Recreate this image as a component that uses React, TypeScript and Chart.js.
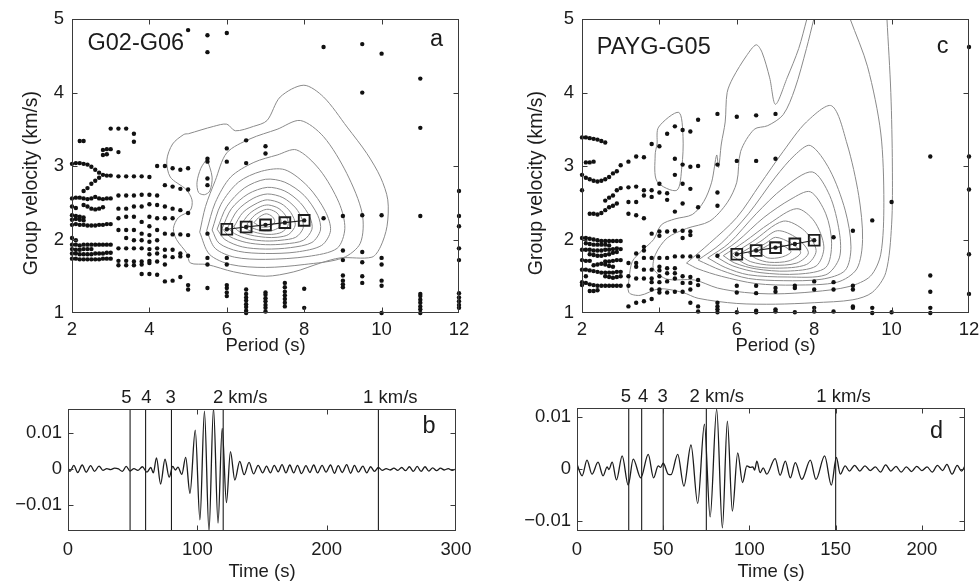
import React, { useEffect, useRef } from "react";
import { Chart, registerables } from "chart.js";

Chart.register(...registerables);

type P = [number, number];

const FONT = "'Liberation Sans', Arial, Helvetica, sans-serif";
const INK = "#1c1c1c";
const CONTOUR = "#8a8a8a";

// ---------- axes ----------
const periodTicks = [2, 4, 6, 8, 10, 12];
const velocityTicks = [1, 2, 3, 4, 5];
const timeTicksB = [0, 100, 200, 300];
const timeTicksD = [0, 50, 100, 150, 200];
const ampTicks = [-0.01, 0, 0.01];
const ampTickLabels = ["\u22120.01", "0", "0.01"];

// ---------- dispersion picks ----------
const dispPeriods = [6, 6.5, 7, 7.5, 8];
const dispVelA = [2.14, 2.17, 2.2, 2.23, 2.26];
const dispVelC = [1.8, 1.85, 1.89, 1.94, 1.99];

// ---------- arrivals (group velocity markers) ----------
const arrivalLabels = ["5", "4", "3", "2 km/s", "1 km/s"];
const arrivalTimesB = [48, 60, 80, 120, 240];
const arrivalTimesD = [30, 37.5, 50, 75, 150];

// ---------- scatter picks, panel a ----------
const dotsA: P[] = [
  [2.0,3.03],[2.1,3.04],[2.2,3.04],[2.3,3.03],[2.4,3.02],[2.5,2.99],[2.6,2.95],[2.7,2.91],[2.8,2.88],[2.9,2.87],[3.0,2.87],
  [2.2,3.34],[2.3,3.34],[2.8,3.22],[2.9,3.23],[3.0,3.23],[2.8,3.15],[2.9,3.16],[3.0,3.51],
  [2.3,2.66],[2.4,2.7],[2.5,2.76],[2.6,2.8],[2.7,2.84],
  [2.0,2.56],[2.1,2.57],[2.2,2.57],[2.3,2.56],[2.4,2.55],[2.5,2.56],[2.6,2.58],[2.7,2.56],[2.8,2.55],[2.9,2.56],[3.0,2.56],
  [2.0,2.45],[2.1,2.43],[2.3,2.47],[2.4,2.45],[2.5,2.42],[2.6,2.41],[2.7,2.42],[2.8,2.44],
  [2.0,2.33],[2.1,2.32],[2.2,2.31],[2.3,2.3],
  [2.0,2.27],[2.1,2.28],[2.2,2.27],[2.3,2.26],
  [2.0,2.2],[2.1,2.21],[2.2,2.2],[2.3,2.2],[2.4,2.19],[2.5,2.19],[2.6,2.19],[2.7,2.2],[2.8,2.2],[2.9,2.21],[3.0,2.21],
  [2.0,2.02],[2.1,1.99],
  [2.0,1.93],[2.1,1.93],[2.2,1.92],[2.3,1.93],[2.4,1.93],[2.5,1.93],[2.6,1.93],[2.7,1.93],[2.8,1.93],[2.9,1.93],[3.0,1.93],
  [2.0,1.87],[2.1,1.86],[2.2,1.86],[2.3,1.87],[2.4,1.87],[2.5,1.87],
  [2.0,1.81],[2.1,1.81],[2.2,1.8],[2.3,1.8],[2.4,1.8],[2.5,1.8],[2.6,1.81],[2.7,1.81],[2.8,1.81],[2.9,1.82],[3.0,1.82],
  [2.0,1.74],[2.1,1.74],[2.2,1.73],[2.3,1.73],[2.4,1.73],[2.5,1.73],[2.6,1.73],[2.7,1.73],[2.8,1.74],[2.9,1.74],[3.0,1.74],
  [3.2,3.51],[3.2,3.19],[3.2,2.86],[3.2,2.6],[3.2,2.42],[3.2,2.29],[3.2,2.13],[3.2,1.88],[3.2,1.71],[3.2,1.65],
  [3.4,3.51],[3.4,2.86],[3.4,2.6],[3.4,2.42],[3.4,2.31],[3.4,2.13],[3.4,2.02],[3.4,1.88],[3.4,1.71],[3.4,1.65],
  [3.6,3.44],[3.6,3.33],[3.6,2.86],[3.6,2.6],[3.6,2.45],[3.6,2.31],[3.6,2.13],[3.6,1.99],[3.6,1.88],[3.6,1.7],[3.6,1.65],
  [3.8,2.86],[3.8,2.61],[3.8,2.45],[3.8,2.24],[3.8,2.08],[3.8,1.99],[3.8,1.88],[3.8,1.7],[3.8,1.66],[3.8,1.53],
  [4.0,2.85],[4.0,2.61],[4.0,2.48],[4.0,2.31],[4.0,2.18],[4.0,2.06],[4.0,1.97],[4.0,1.87],[4.0,1.8],[4.0,1.71],[4.0,1.68],[4.0,1.53],
  [4.2,3.0],[4.2,2.6],[4.2,2.47],[4.2,2.29],[4.2,2.13],[4.2,1.99],[4.2,1.88],[4.2,1.81],[4.2,1.7],[4.2,1.52],
  [4.4,3.0],[4.4,2.74],[4.4,2.45],[4.4,2.29],[4.4,2.08],[4.4,1.86],[4.4,1.77],[4.4,1.66],[4.4,1.43],
  [4.6,2.97],[4.6,2.72],[4.6,2.42],[4.6,2.29],[4.6,2.07],[4.6,1.86],[4.6,1.76],[4.6,1.44],
  [4.8,2.95],[4.8,2.69],[4.8,2.4],[4.8,2.07],[4.8,1.81],[4.8,1.77],[4.8,1.49],
  [5.0,4.85],[5.0,2.97],[5.0,2.68],[5.0,2.36],[5.0,2.06],[5.0,1.78],[5.0,1.38],[5.0,1.32],
  [5.5,4.78],[5.5,4.55],[5.5,3.1],[5.5,3.06],[5.5,2.83],[5.5,2.74],[5.5,2.08],[5.5,1.75],[5.5,1.66],[5.5,1.34],
  [6,4.81],[6,3.24],[6,3.06],[6,1.75],[6,1.66],[6,1.38],[6,1.34],[6,1.28],[6,1.23],
  [6.5,3.35],[6.5,3.04],[6.5,1.32],[6.5,1.26],[6.5,1.21],[6.5,1.17],[6.5,1.12],[6.5,1.08],[6.5,1.03],[6.5,1.0],
  [7,3.27],[7,3.17],[7,1.28],[7,1.25],[7,1.2],[7,1.16],[7,1.11],[7,1.07],[7,1.02],
  [7.5,1.41],[7.5,1.35],[7.5,1.29],[7.5,1.24],[7.5,1.19],[7.5,1.14],[7.5,1.09],
  [8,1.33],[8,1.07],
  [8.5,4.62],[8.5,2.29],
  [9,2.32],[9,1.85],[9,1.72],[9,1.51],[9,1.44],[9,1.39],[9,1.35],
  [9.5,4.66],[9.5,4.0],[9.5,2.33],[9.5,1.83],[9.5,1.69],[9.5,1.5],[9.5,1.41],
  [10,4.53],[10,2.33],[10,1.75],[10,1.66],[10,1.44],[10,1.37],[10,1.0],
  [11,4.19],[11,3.52],[11,2.32],[11,1.26],[11,1.23],[11,1.18],[11,1.14],[11,1.09],[11,1.05],[11,1.0],
  [12,2.66],[12,2.32],[12,2.18],[12,1.88],[12,1.72],[12,1.27],[12,1.21],[12,1.16],[12,1.11],[12,1.07],
];

// ---------- scatter picks, panel c ----------
const dotsC: P[] = [
  [2.0,3.39],[2.1,3.39],[2.2,3.38],[2.3,3.37],[2.4,3.36],[2.5,3.34],[2.6,3.32],
  [2.1,3.05],[2.2,3.05],[2.3,3.06],[2.0,2.67],
  [2.0,2.88],[2.1,2.84],[2.2,2.82],[2.3,2.8],[2.4,2.79],[2.5,2.8],[2.6,2.82],[2.7,2.85],[2.8,2.9],[2.9,2.93],[3.0,3.01],
  [2.2,2.35],[2.3,2.35],[2.4,2.34],[2.5,2.36],[2.6,2.4],[2.7,2.44],[2.8,2.46],[2.9,2.49],
  [2.6,2.53],[2.7,2.57],[2.8,2.6],[2.9,2.67],[3.0,2.7],
  [2.0,2.02],[2.1,2.02],[2.2,2.01],[2.3,2.0],[2.4,1.99],[2.5,1.98],[2.6,1.98],[2.7,1.98],[2.8,1.98],[2.9,1.98],[3.0,1.98],
  [2.1,1.95],[2.2,1.94],[2.3,1.93],[2.4,1.93],[2.5,1.93],[2.6,1.93],[2.7,1.92],
  [2.0,1.86],[2.1,1.86],[2.2,1.86],[2.3,1.85],[2.4,1.85],[2.5,1.85],[2.6,1.86],[2.7,1.86],[2.8,1.87],[2.9,1.88],[3.0,1.87],
  [2.2,1.8],[2.3,1.79],[2.4,1.78],[2.5,1.78],[2.6,1.79],[2.7,1.8],[2.8,1.82],[2.9,1.83],
  [2.0,1.72],[2.1,1.71],[2.2,1.71],[2.6,1.7],[2.7,1.7],[2.8,1.71],[2.9,1.72],[3.0,1.72],
  [2.3,1.65],[2.4,1.66],[2.5,1.67],[2.6,1.66],[2.7,1.64],[2.8,1.63],
  [2.0,1.59],[2.1,1.59],[2.2,1.58],[2.3,1.57],[2.4,1.56],[2.5,1.55],[2.6,1.55],[2.7,1.55],[2.8,1.55],[2.9,1.56],[3.0,1.56],
  [2.1,1.5],[2.6,1.5],[2.7,1.49],[2.8,1.48],[2.9,1.49],[3.0,1.5],
  [2.0,1.42],[2.0,1.38],[2.1,1.41],[2.2,1.39],[2.3,1.38],[2.4,1.37],[2.5,1.37],[2.6,1.37],[2.7,1.37],[2.8,1.37],[2.9,1.37],[3.0,1.37],
  [2.2,1.3],[2.3,1.3],[2.4,1.31],
  [3.2,3.06],[3.2,2.71],[3.2,2.51],[3.2,2.35],[3.2,1.68],[3.2,1.5],[3.2,1.37],[3.2,1.09],
  [3.4,3.13],[3.4,2.72],[3.4,2.51],[3.4,2.33],[3.4,1.81],[3.4,1.68],[3.4,1.63],[3.4,1.47],[3.4,1.14],
  [3.6,3.12],[3.6,2.67],[3.6,2.6],[3.6,2.29],[3.6,1.9],[3.6,1.85],[3.6,1.75],[3.6,1.59],[3.6,1.47],[3.6,1.16],
  [3.8,3.3],[3.8,2.67],[3.8,2.58],[3.8,2.08],[3.8,1.75],[3.8,1.59],[3.8,1.47],[3.8,1.42],[3.8,1.32],[3.8,1.19],
  [4.0,3.27],[4.0,2.76],[4.0,2.64],[4.0,2.11],[4.0,2.05],[4.0,1.75],[4.0,1.63],[4.0,1.58],[4.0,1.5],[4.0,1.42],[4.0,1.32],[4.0,1.28],
  [4.2,3.44],[4.2,2.63],[4.2,2.54],[4.2,2.11],[4.2,1.75],[4.2,1.61],[4.2,1.54],[4.2,1.43],[4.2,1.28],
  [4.4,3.54],[4.4,3.1],[4.4,2.88],[4.4,2.38],[4.4,2.12],[4.4,1.77],[4.4,1.61],[4.4,1.54],[4.4,1.47],[4.4,1.29],
  [4.6,3.49],[4.6,3.02],[4.6,2.76],[4.6,2.49],[4.6,2.12],[4.6,2.02],[4.6,1.77],[4.6,1.5],[4.6,1.41],[4.6,1.29],
  [4.8,3.47],[4.8,2.99],[4.8,2.69],[4.8,2.11],[4.8,2.06],[4.8,1.77],[4.8,1.49],[4.8,1.41],[4.8,1.32],[4.8,1.14],
  [5.0,3.63],[5.0,3.0],[5.0,2.44],[5.0,1.77],[5.0,1.45],[5.0,1.38],[5.0,1.09],[5.0,1.02],
  [5.5,3.71],[5.5,3.02],[5.5,2.64],[5.5,2.46],[5.5,1.78],[5.5,1.14],[5.5,1.09],[5.5,1.05],[5.5,1.01],
  [6,3.67],[6,3.07],[6,1.37],[6,1.28],[6,1.01],
  [6.5,3.69],[6.5,3.07],[6.5,1.37],[6.5,1.27],[6.5,1.03],[6.5,1.01],
  [7,3.71],[7,3.1],[7,1.34],[7,1.29],[7,1.05],[7,1.02],
  [7.5,1.37],[7.5,1.34],[7.5,1.01],
  [8,1.43],[8,1.32],[8,1.07],[8,1.02],
  [8.5,2.03],[8.5,1.42],[8.5,1.32],[8.5,1.02],
  [9,2.12],[9,1.37],[9,1.32],[9,1.09],[9,1.07],
  [9.5,2.26],[9.5,1.07],[9.5,1.0],
  [10,2.51],[10,1.01],
  [11,3.13],[11,1.51],[11,1.29],[11,1.07],[11,1.0],
  [12,4.62],[12,3.13],[12,2.68],[12,1.8],[12,1.26],
];

// ---------- contours, panel a ----------
const contoursA: P[][] = [
  [[5.01,3.44],[5.66,3.54],[6.0,3.57],[6.22,3.48],[6.69,3.54],[7.04,3.62],[7.38,3.94],[7.99,4.1],[8.5,3.94],[9.11,3.53],[9.62,3.17],[9.97,2.85],[10.16,2.54],[10.14,2.18],[9.97,1.9],[9.75,1.76],[8.93,1.75],[8.42,1.68],[7.73,1.56],[7.0,1.5],[6.18,1.56],[5.49,1.66],[5.06,1.68],[4.97,1.81],[4.7,2.0],[4.62,2.15],[4.75,2.3],[5.06,2.4],[5.1,2.54],[4.95,2.68],[4.54,2.85],[4.45,3.08],[4.6,3.3],[4.89,3.43],[5.01,3.44]],
  [[5.49,3.1],[5.33,2.97],[5.23,2.78],[5.27,2.64],[5.42,2.61],[5.56,2.66],[5.62,2.85],[5.49,3.1]],
  [[5.3,2.1],[5.45,2.45],[5.7,2.8],[6.0,3.18],[6.6,3.37],[7.3,3.5],[7.9,3.62],[8.5,3.4],[9.1,2.9],[9.5,2.35],[9.45,1.95],[9.0,1.75],[8.0,1.66],[7.0,1.62],[6.1,1.66],[5.55,1.8],[5.3,2.1]],
  [[5.48,2.12],[5.7,2.5],[6.1,2.85],[6.7,3.05],[7.3,3.15],[7.8,3.22],[8.4,2.95],[8.9,2.5],[9.05,2.15],[8.85,1.88],[8.1,1.77],[7.0,1.73],[6.2,1.76],[5.7,1.88],[5.48,2.12]],
  [[5.62,2.13],[5.85,2.48],[6.3,2.78],[6.9,2.93],[7.5,2.95],[8.1,2.72],[8.55,2.38],[8.68,2.12],[8.45,1.92],[7.8,1.83],[7.0,1.81],[6.3,1.84],[5.8,1.95],[5.62,2.13]],
  [[5.75,2.14],[6.0,2.45],[6.45,2.7],[7.0,2.82],[7.5,2.78],[8.0,2.6],[8.35,2.33],[8.42,2.13],[8.2,1.96],[7.65,1.89],[7.0,1.87],[6.4,1.9],[5.95,2.0],[5.75,2.14]],
  [[5.88,2.15],[6.12,2.42],[6.55,2.62],[7.05,2.71],[7.5,2.66],[7.9,2.5],[8.15,2.3],[8.2,2.14],[7.98,1.99],[7.5,1.94],[7.0,1.93],[6.5,1.96],[6.08,2.04],[5.88,2.15]],
  [[6.02,2.16],[6.28,2.4],[6.68,2.56],[7.05,2.62],[7.45,2.57],[7.78,2.43],[7.95,2.27],[7.97,2.15],[7.78,2.03],[7.4,1.99],[7.0,1.98],[6.55,2.01],[6.2,2.08],[6.02,2.16]],
  [[6.18,2.17],[6.42,2.37],[6.8,2.5],[7.05,2.54],[7.4,2.49],[7.65,2.37],[7.77,2.2],[7.6,2.07],[7.3,2.03],[7.0,2.03],[6.62,2.06],[6.32,2.11],[6.18,2.17]],
  [[6.35,2.19],[6.58,2.35],[6.88,2.45],[7.08,2.47],[7.35,2.42],[7.55,2.3],[7.58,2.19],[7.42,2.1],[7.15,2.07],[6.88,2.08],[6.55,2.13],[6.35,2.19]],
  [[6.52,2.21],[6.72,2.33],[6.95,2.4],[7.1,2.41],[7.3,2.36],[7.4,2.26],[7.36,2.17],[7.15,2.12],[6.9,2.12],[6.65,2.16],[6.52,2.21]],
  [[6.7,2.23],[6.85,2.31],[7.02,2.35],[7.18,2.31],[7.24,2.24],[7.12,2.18],[6.9,2.17],[6.7,2.23]],
];

// ---------- contours, panel c ----------
const contoursC: P[][] = [
  [[7.81,5.0],[7.6,4.6],[7.3,4.2],[7.0,3.84],[6.85,4.2],[6.65,4.55],[6.5,4.65],[6.25,4.5],[5.9,4.2],[5.75,4.0],[5.7,3.6],[5.6,3.3],[5.53,2.98],[5.48,3.15],[5.35,2.78],[5.15,2.52],[4.85,2.34],[4.4,2.28],[4.05,2.2],[3.85,2.0],[3.55,1.85],[3.3,1.7],[3.22,1.48],[3.21,1.28],[3.5,1.24],[4.0,1.33],[4.6,1.28],[5.0,1.2],[6.0,1.13],[7.0,1.12],[8.0,1.14],[9.0,1.18],[9.5,1.28],[9.85,1.55],[10.0,2.2],[10.02,3.0],[9.98,4.0],[9.88,5.0]],
  [[7.99,5.0],[7.8,4.6],[7.5,4.05],[7.2,3.7],[6.8,3.55],[6.45,3.5],[6.1,3.2],[6.0,2.78],[5.75,2.5],[5.3,2.25],[4.7,2.15],[4.2,2.02],[3.9,1.8],[3.85,1.6],[4.2,1.46],[4.9,1.45],[5.5,1.34],[6.2,1.28],[7.0,1.26],[8.0,1.29],[8.9,1.36],[9.45,1.5],[9.72,1.8],[9.8,2.5],[9.72,3.45],[9.38,4.35],[8.93,5.0]],
  [[3.94,3.3],[3.98,3.53],[4.5,3.73],[4.61,3.4],[4.58,2.99],[4.45,2.67],[3.94,2.79],[3.89,3.15],[3.94,3.3]],
  [[4.7,1.68],[5.3,1.95],[6.0,2.3],[6.6,2.75],[7.2,3.2],[7.8,3.6],[8.45,3.82],[8.85,3.3],[9.15,2.6],[9.25,2.0],[9.1,1.6],[8.6,1.42],[7.5,1.38],[6.5,1.4],[5.6,1.5],[5.0,1.6],[4.7,1.68]],
  [[5.0,1.72],[5.6,1.95],[6.3,2.35],[7.0,2.85],[7.5,3.15],[7.9,3.28],[8.4,2.95],[8.8,2.4],[8.95,1.9],[8.8,1.58],[8.2,1.46],[7.2,1.44],[6.3,1.47],[5.6,1.58],[5.0,1.72]],
  [[5.25,1.75],[5.8,1.95],[6.5,2.35],[7.2,2.7],[7.95,2.92],[8.4,2.6],[8.65,2.1],[8.65,1.75],[8.3,1.52],[7.3,1.49],[6.3,1.52],[5.7,1.62],[5.25,1.75]],
  [[5.45,1.77],[6.0,1.97],[6.7,2.3],[7.4,2.55],[7.9,2.65],[8.3,2.35],[8.45,1.95],[8.3,1.62],[7.6,1.53],[6.6,1.55],[5.9,1.64],[5.45,1.77]],
  [[5.65,1.78],[6.2,1.97],[6.85,2.22],[7.55,2.42],[8.0,2.25],[8.25,1.9],[8.05,1.64],[7.3,1.57],[6.5,1.6],[5.95,1.68],[5.65,1.78]],
  [[5.85,1.79],[6.4,1.97],[7.2,2.25],[7.75,2.12],[8.05,1.85],[7.8,1.66],[7.0,1.61],[6.3,1.65],[5.85,1.79]],
  [[6.05,1.8],[6.6,1.97],[7.05,2.12],[7.55,2.02],[7.85,1.82],[7.55,1.68],[6.9,1.65],[6.35,1.7],[6.05,1.8]],
  [[6.3,1.82],[6.75,1.95],[7.0,2.03],[7.4,1.95],[7.65,1.82],[7.35,1.71],[6.85,1.69],[6.5,1.74],[6.3,1.82]],
  [[6.55,1.84],[6.8,1.92],[7.0,1.96],[7.25,1.9],[7.4,1.83],[7.15,1.76],[6.8,1.75],[6.55,1.84]],
];

// ---------- seismograms (peaks and troughs) ----------
const waveB: P[] = [
  [0,0.0004],[1.5,-0.0006],[4.5,0.0011],[7.5,-0.0009],[11,0.0012],[14,-0.0008],[17.5,0.001],[20.5,-0.0006],[24,0.0009],[27,-0.0003],
  [30,0.0002],[33,-0.0001],[36,0.0003],[39,0.0001],[42,-0.0006],[45,0.0008],[48,-0.0005],[51,0.0002],[54,-0.0003],[57.5,0.0007],
  [61,-0.0008],[64,0.0005],[66,-0.001],[68.4,0.0032],[71.6,-0.0041],[75,0.0028],[78.2,-0.0022],[81,0.0008],[83,-0.0002],[85,0.0006],
  [88,-0.0014],[91,0.0033],[94.3,-0.0067],[98.4,0.0109],[102,-0.0141],[105.5,0.0162],[109,-0.0172],[112.5,0.017],[116,-0.015],[119.2,0.0114],
  [122.5,-0.0093],[125.6,0.0049],[129,-0.003],[132.8,0.0022],[136.2,-0.0015],[140,0.0019],[143.5,-0.0013],[147,0.0011],[150.5,-0.001],[153.5,0.0009],
  [156.5,-0.001],[159.5,0.0011],[162.5,-0.0007],[165.5,0.0013],[168.5,-0.001],[171.5,0.0012],[174.5,-0.001],[177.5,0.0011],[180.5,-0.0012],[184,0.001],
  [187,-0.0009],[190,0.0012],[193,-0.001],[196.5,0.0011],[199.5,-0.0008],[203,0.0012],[206,-0.0011],[209,0.001],[212,-0.0009],[215.5,0.0013],
  [218.5,-0.0011],[221.5,0.0011],[224.5,-0.0008],[228,0.0009],[231,-0.001],[234,0.0007],[237,-0.0006],[240,0.0005],[243,-0.0003],[246,0.0002],
  [249,-0.0002],[252,0.0003],[255,-0.0003],[258,0.0005],[261,-0.0004],[264,0.0007],[267,-0.0006],[270,0.0008],[273,-0.0006],[276,0.0007],
  [279,-0.0005],[282,0.0004],[285,-0.0004],[288,0.0003],[291,-0.0002],[294,0.0002],[297,-0.0003],[300,0.0001],
];

const waveD: P[] = [
  [0,0.0009],[3,-0.0013],[5.8,0.0017],[8.7,-0.001],[12.2,0.0013],[15.1,-0.0013],[17.5,0.0004],[18.5,-0.0001],[20.4,0.0013],[22.9,-0.0021],
  [26.2,0.0025],[29.7,-0.0031],[32.6,0.0019],[37,-0.0017],[41.3,0.0028],[44.4,-0.0017],[47.1,0.0006],[48.5,0.0003],[50,0.0011],[52.9,-0.001],
  [54.5,-0.0011],[58.4,0.0028],[62,-0.0033],[66.1,0.0046],[70,-0.0066],[73.9,0.0086],[77.2,-0.0092],[81,0.0115],[84.3,-0.0113],[87.2,0.0092],
  [90.1,-0.0081],[93.2,0.0031],[96,-0.0026],[98.5,0.0006],[100.5,0.0003],[102,0.0004],[103,-0.0002],[104.3,0.0015],[106.2,-0.0007],[108,0.0002],
  [110,-0.001],[114.9,0.002],[117.8,-0.0012],[120.8,0.0015],[123.7,-0.0017],[126.6,0.0012],[130.4,-0.002],[135.3,0.0017],[138.6,-0.002],[143.6,0.0025],
  [147.5,-0.0031],[150.4,0.0022],[152.7,-0.001],[155.5,0.0006],[158,-0.0004],[161,0.0007],[164,-0.0004],[167,0.0006],[170,-0.0003],[173,0.0004],
  [176,-0.0006],[179,0.0008],[182,-0.0004],[185,0.0005],[188,-0.0006],[191,0.0004],[194,-0.0005],[197,0.0005],[200,-0.0003],[203,0.0004],
  [206,-0.0006],[209,0.0007],[212,-0.0003],[214.5,0.0009],[217.5,-0.001],[220.5,0.0007],[223,-0.0004],[225,0.0006],
];

// ---------- layout (pixels, positions of labels) ----------
const arrivalLabelAtB = [45.2, 60.7, 79.3, 133.1, 249.2];
const arrivalLabelAtD = [28.3, 38.4, 49.6, 81.1, 154.6];

type TextSpec = {
  t: string; x: number; y: number;
  xRef: "left" | "right" | "center" | "data";
  yRef: "top" | "bottom" | "middle";
  size: number; align?: CanvasTextAlign; base?: CanvasTextBaseline; rot?: boolean;
};

const xy = (a: P[]) => a.map(([x, y]) => ({ x, y }));
const zip = (xs: number[], ys: number[]) => xs.map((x, i) => ({ x, y: ys[i] }));

function makeFrame(texts: TextSpec[]) {
  return {
    id: "frame",
    afterDraw(chart: any) {
      const { ctx, chartArea: a, scales } = chart;
      ctx.save();
      ctx.strokeStyle = "#3a3a3a";
      ctx.lineWidth = 1;
      const L = Math.round(a.left) + 0.5, R = Math.round(a.right) - 0.5;
      const T = Math.round(a.top) + 0.5, B = Math.round(a.bottom) - 0.5;
      ctx.strokeRect(L, T, R - L, B - T);
      ctx.beginPath();
      const tk = 5;
      scales.x.ticks.forEach((t: any) => {
        const p = Math.round(scales.x.getPixelForValue(t.value)) + 0.5;
        if (p <= L + 1 || p >= R - 1) return;
        ctx.moveTo(p, B); ctx.lineTo(p, B - tk);
        ctx.moveTo(p, T); ctx.lineTo(p, T + tk);
      });
      scales.y.ticks.forEach((t: any) => {
        const p = Math.round(scales.y.getPixelForValue(t.value)) + 0.5;
        if (p <= T + 1 || p >= B - 1) return;
        ctx.moveTo(L, p); ctx.lineTo(L + tk, p);
        ctx.moveTo(R, p); ctx.lineTo(R - tk, p);
      });
      ctx.stroke();
      ctx.fillStyle = INK;
      texts.forEach((s) => {
        let x = 0;
        if (s.xRef === "left") x = a.left + s.x;
        else if (s.xRef === "right") x = a.right + s.x;
        else if (s.xRef === "center") x = (a.left + a.right) / 2 + s.x;
        else x = scales.x.getPixelForValue(s.x);
        let y = 0;
        if (s.yRef === "top") y = a.top + s.y;
        else if (s.yRef === "bottom") y = a.bottom + s.y;
        else y = (a.top + a.bottom) / 2 + s.y;
        ctx.font = `${s.size}px ${FONT}`;
        ctx.textAlign = s.align || "center";
        ctx.textBaseline = s.base || "alphabetic";
        if (s.rot) {
          ctx.save();
          ctx.translate(x, y);
          ctx.rotate(-Math.PI / 2);
          ctx.fillText(s.t, 0, 0);
          ctx.restore();
        } else ctx.fillText(s.t, x, y);
      });
      ctx.restore();
    },
  };
}

type PanelSpec = {
  left: number; top: number; w: number; h: number;
  yAxisW: number; xAxisH: number; padTop: number; padRight: number;
  xMin: number; xMax: number; yMin: number; yMax: number;
  xTicks: number[]; xLabels: string[]; yTicks: number[]; yLabels: string[];
  xPad: number; yPad: number;
  datasets: any[]; texts: TextSpec[];
};

const TICK_SIZE = 18.5;
const YLABEL_SIZE = 19.5;

function buildConfig(p: PanelSpec) {
  const tickFont = { family: FONT, size: TICK_SIZE, lineHeight: 1.2 };
  const grid = { display: false, drawTicks: false, tickLength: 0 };
  return {
    type: "scatter",
    data: { datasets: p.datasets },
    options: {
      responsive: false,
      animation: false,
      events: [],
      layout: { padding: { top: p.padTop, right: p.padRight, left: 0, bottom: 0 } },
      plugins: { legend: { display: false }, tooltip: { enabled: false } },
      scales: {
        x: {
          type: "linear", min: p.xMin, max: p.xMax,
          grid, border: { display: false },
          ticks: { font: tickFont, color: INK, padding: p.xPad, maxRotation: 0, autoSkip: false,
            callback: (_v: any, i: number) => p.xLabels[i] },
          afterBuildTicks: (s: any) => { s.ticks = p.xTicks.map((v) => ({ value: v })); },
          afterFit: (s: any) => { s.height = p.xAxisH; },
        },
        y: {
          type: "linear", min: p.yMin, max: p.yMax,
          grid, border: { display: false },
          ticks: { font: tickFont, color: INK, padding: p.yPad, autoSkip: false,
            callback: (_v: any, i: number) => p.yLabels[i] },
          afterBuildTicks: (s: any) => { s.ticks = p.yTicks.map((v) => ({ value: v })); },
          afterFit: (s: any) => { s.width = p.yAxisW; },
        },
      },
    },
    plugins: [makeFrame(p.texts)],
  };
}

function contourSets(list: P[][]) {
  return list.map((c) => ({
    data: xy(c), showLine: true, pointRadius: 0, borderColor: CONTOUR, borderWidth: 1, tension: 0.3,
  }));
}

function disperSets(vel: number[]) {
  return [
    { data: zip(dispPeriods, vel), showLine: true, borderColor: INK, borderWidth: 1.1,
      pointStyle: "rect", pointRadius: 7.6, pointBorderWidth: 1.9, pointBorderColor: INK,
      pointBackgroundColor: "rgba(0,0,0,0)" },
    { data: zip(dispPeriods, vel), pointRadius: 2.2, pointBorderWidth: 0, pointBackgroundColor: INK },
  ];
}

function dotSet(d: P[]) {
  return { data: xy(d), pointRadius: 2.2, pointBorderWidth: 0, pointBackgroundColor: "#111", clip: false };
}

function seisSets(wave: P[], arrivals: number[], yMin: number, yMax: number) {
  return [
    ...arrivals.map((t) => ({
      data: [{ x: t, y: yMin }, { x: t, y: yMax }], showLine: true, pointRadius: 0,
      borderColor: INK, borderWidth: 1.1,
    })),
    { data: xy(wave), showLine: true, pointRadius: 0, borderColor: INK, borderWidth: 1.3,
      cubicInterpolationMode: "monotone" },
  ];
}

const velLabels = velocityTicks.map(String);
const perLabels = periodTicks.map(String);

const panelA: PanelSpec = {
  left: 0, top: 0, w: 490, h: 362, yAxisW: 72, xAxisH: 49, padTop: 18, padRight: 31,
  xMin: 2, xMax: 12, yMin: 1, yMax: 5,
  xTicks: periodTicks, xLabels: perLabels, yTicks: velocityTicks, yLabels: velLabels,
  xPad: 6, yPad: 8,
  datasets: [...disperSets(dispVelA), dotSet(dotsA), ...contourSets(contoursA)],
  texts: [
    { t: "G02-G06", x: 15.5, y: 31, xRef: "left", yRef: "top", size: 23.5, align: "left" },
    { t: "a", x: -22.5, y: 27, xRef: "right", yRef: "top", size: 23.5 },
    { t: "Period (s)", x: 0, y: 33, xRef: "center", yRef: "bottom", size: TICK_SIZE, base: "middle" },
    { t: "Group velocity (km/s)", x: -40, y: 17, xRef: "left", yRef: "middle", size: YLABEL_SIZE, base: "middle", rot: true },
  ],
};

const panelC: PanelSpec = {
  left: 490, top: 0, w: 520, h: 362, yAxisW: 92, xAxisH: 49, padTop: 18, padRight: 41,
  xMin: 2, xMax: 12, yMin: 1, yMax: 5,
  xTicks: periodTicks, xLabels: perLabels, yTicks: velocityTicks, yLabels: velLabels,
  xPad: 6, yPad: 8,
  datasets: [...disperSets(dispVelC), dotSet(dotsC), ...contourSets(contoursC)],
  texts: [
    { t: "PAYG-G05", x: 14.7, y: 35, xRef: "left", yRef: "top", size: 23.5, align: "left" },
    { t: "c", x: -26.5, y: 33.5, xRef: "right", yRef: "top", size: 23.5 },
    { t: "Period (s)", x: 0, y: 33, xRef: "center", yRef: "bottom", size: TICK_SIZE, base: "middle" },
    { t: "Group velocity (km/s)", x: -45, y: 17, xRef: "left", yRef: "middle", size: YLABEL_SIZE, base: "middle", rot: true },
  ],
};

const ampMinB = -0.0172, ampMaxB = 0.0168;
const ampMinD = -0.0119, ampMaxD = 0.0117;

const panelB: PanelSpec = {
  left: 0, top: 362, w: 490, h: 221, yAxisW: 68, xAxisH: 52, padTop: 47, padRight: 34,
  xMin: 0, xMax: 300, yMin: ampMinB, yMax: ampMaxB,
  xTicks: timeTicksB, xLabels: timeTicksB.map(String), yTicks: ampTicks, yLabels: ampTickLabels,
  xPad: 8, yPad: 6,
  datasets: seisSets(waveB, arrivalTimesB, ampMinB, ampMaxB),
  texts: [
    { t: "b", x: -27, y: 24.3, xRef: "right", yRef: "top", size: 23.5 },
    { t: "Time (s)", x: 0, y: 41, xRef: "center", yRef: "bottom", size: TICK_SIZE, base: "middle" },
    ...arrivalLabels.map((t, i) => ({ t, x: arrivalLabelAtB[i], y: -5.7, xRef: "data" as const, yRef: "top" as const, size: TICK_SIZE })),
  ],
};

const panelD: PanelSpec = {
  left: 490, top: 362, w: 520, h: 221, yAxisW: 87, xAxisH: 52, padTop: 46, padRight: 45,
  xMin: 0, xMax: 225, yMin: ampMinD, yMax: ampMaxD,
  xTicks: timeTicksD, xLabels: timeTicksD.map(String), yTicks: ampTicks, yLabels: ampTickLabels,
  xPad: 8, yPad: 6,
  datasets: seisSets(waveD, arrivalTimesD, ampMinD, ampMaxD),
  texts: [
    { t: "d", x: -28.5, y: 30, xRef: "right", yRef: "top", size: 23.5 },
    { t: "Time (s)", x: 0, y: 41, xRef: "center", yRef: "bottom", size: TICK_SIZE, base: "middle" },
    ...arrivalLabels.map((t, i) => ({ t, x: arrivalLabelAtD[i], y: -6.3, xRef: "data" as const, yRef: "top" as const, size: TICK_SIZE })),
  ],
};

function Panel({ spec }: { spec: PanelSpec }) {
  const ref = useRef<HTMLCanvasElement>(null);
  useEffect(() => {
    const chart = new Chart(ref.current as HTMLCanvasElement, buildConfig(spec) as any);
    return () => chart.destroy();
  }, [spec]);
  return (
    <canvas
      ref={ref}
      width={spec.w}
      height={spec.h}
      style={{ position: "absolute", left: spec.left, top: spec.top, width: spec.w, height: spec.h }}
    />
  );
}

export default function App() {
  return (
    <div style={{ position: "absolute", left: 0, top: 0, width: 979, height: 583, overflow: "hidden", background: "#fff" }}>
      <Panel spec={panelA} />
      <Panel spec={panelC} />
      <Panel spec={panelB} />
      <Panel spec={panelD} />
    </div>
  );
}
